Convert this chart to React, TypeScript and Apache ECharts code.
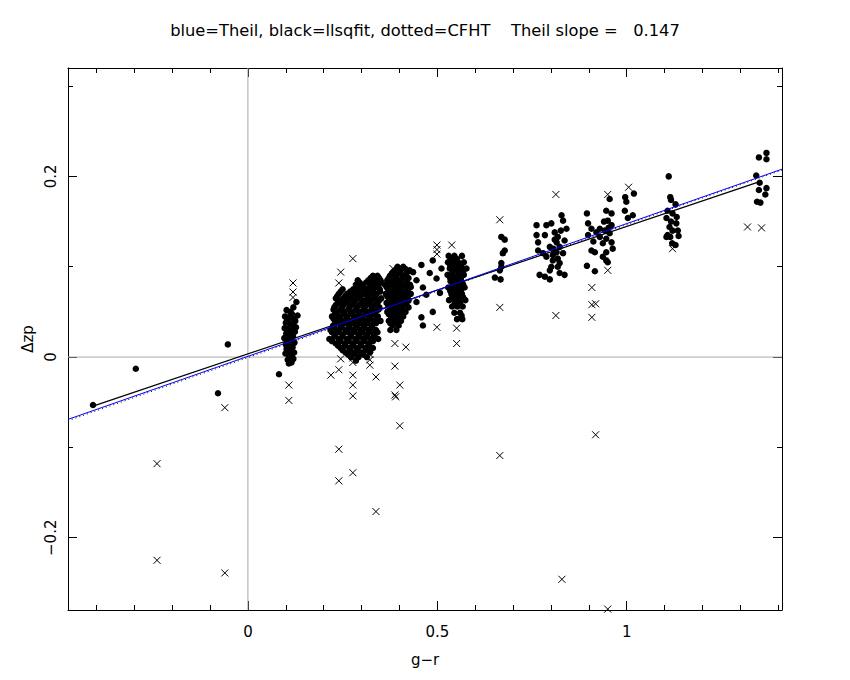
import React, { useEffect, useRef } from "react";
import * as echarts from "echarts";

// Axis ranges and ticks
const X_RANGE = [-0.475, 1.41];
const Y_RANGE = [-0.28, 0.32];
const xMajorTicks = [0, 0.5, 1];
const xMinorTicks = [-0.4, -0.3, -0.2, -0.1, 0, 0.1, 0.2, 0.3, 0.4, 0.5, 0.6, 0.7, 0.8, 0.9, 1, 1.1, 1.2, 1.3, 1.4];
const yMajorTicks = [-0.2, 0, 0.2];
const yMinorTicks = [-0.2, -0.1, 0, 0.1, 0.2, 0.3];

const TITLE = "blue=Theil, black=llsqfit, dotted=CFHT    Theil slope =   0.147";
const X_NAME = "g\u2212r";
const Y_NAME = "\u0394zp";

// Fit lines (end points)
const theilLine = [[-0.475, -0.069], [1.41, 0.208]];
const cfhtLine = [[-0.475, -0.0705], [1.41, 0.207]];
const llsqLine = [[-0.407, -0.054], [1.357, 0.195]];

// Filled points
const isolatedDots = [[-0.409, -0.053], [-0.296, -0.013], [-0.079, -0.040], [-0.053, 0.014], [0.082, -0.019]];

const clusterA = [
  [0.128, 0.061], [0.120, 0.055], [0.102, 0.052], [0.112, 0.050], [0.131, 0.046], [0.098, 0.045], [0.108, 0.044],
  [0.118, 0.043], [0.125, 0.040], [0.100, 0.038], [0.111, 0.037], [0.120, 0.035], [0.097, 0.032], [0.106, 0.031],
  [0.115, 0.030], [0.124, 0.028], [0.101, 0.026], [0.110, 0.024], [0.119, 0.023], [0.096, 0.021], [0.105, 0.019],
  [0.114, 0.018], [0.123, 0.016], [0.100, 0.014], [0.109, 0.012], [0.118, 0.011], [0.104, 0.008], [0.113, 0.006],
  [0.122, 0.005], [0.099, 0.004], [0.108, 0.002], [0.117, 0.000], [0.105, -0.003], [0.113, -0.005], [0.120, -0.002],
  [0.110, 0.028], [0.103, 0.041], [0.116, 0.048], [0.127, 0.033], [0.102, 0.009], [0.115, -0.006], [0.108, -0.007],
];

const clusterB = [
  [0.330, 0.090], [0.342, 0.090],
  [0.290, 0.085], [0.318, 0.085], [0.336, 0.085], [0.350, 0.085],
  [0.285, 0.080], [0.300, 0.080], [0.325, 0.080], [0.345, 0.080],
  [0.250, 0.075], [0.278, 0.075], [0.296, 0.075], [0.312, 0.075], [0.330, 0.075], [0.348, 0.075],
  [0.240, 0.070], [0.262, 0.070], [0.283, 0.070], [0.305, 0.070], [0.322, 0.070], [0.340, 0.070],
  [0.232, 0.065], [0.252, 0.065], [0.270, 0.065], [0.290, 0.065], [0.315, 0.065], [0.333, 0.065], [0.352, 0.065],
  [0.238, 0.060], [0.258, 0.060], [0.278, 0.060], [0.300, 0.060], [0.320, 0.060], [0.342, 0.060],
  [0.228, 0.055], [0.248, 0.055], [0.268, 0.055], [0.287, 0.055], [0.308, 0.055], [0.328, 0.055], [0.347, 0.055],
  [0.235, 0.050], [0.255, 0.050], [0.275, 0.050], [0.295, 0.050], [0.316, 0.050], [0.336, 0.050],
  [0.222, 0.045], [0.243, 0.045], [0.262, 0.045], [0.283, 0.045], [0.303, 0.045], [0.323, 0.045], [0.343, 0.045],
  [0.230, 0.040], [0.250, 0.040], [0.270, 0.040], [0.290, 0.040], [0.311, 0.040], [0.331, 0.040], [0.350, 0.040],
  [0.225, 0.035], [0.245, 0.035], [0.266, 0.035], [0.285, 0.035], [0.305, 0.035], [0.326, 0.035],
  [0.218, 0.030], [0.238, 0.030], [0.258, 0.030], [0.278, 0.030], [0.298, 0.030], [0.318, 0.030], [0.338, 0.030],
  [0.230, 0.025], [0.250, 0.025], [0.272, 0.025], [0.292, 0.025], [0.312, 0.025], [0.332, 0.025],
  [0.215, 0.020], [0.240, 0.020], [0.262, 0.020], [0.284, 0.020], [0.305, 0.020], [0.325, 0.020], [0.344, 0.020],
  [0.232, 0.015], [0.255, 0.015], [0.276, 0.015], [0.298, 0.015], [0.318, 0.015],
  [0.245, 0.010], [0.268, 0.010], [0.288, 0.010], [0.310, 0.010], [0.330, 0.010],
  [0.258, 0.005], [0.280, 0.005], [0.300, 0.005], [0.322, 0.005],
  [0.272, 0.000], [0.292, 0.000], [0.314, 0.000], [0.285, -0.004],
];

const clusterBInner = [
  [0.324, 0.0875], [0.346, 0.0875],
  [0.295, 0.0825], [0.312, 0.0825], [0.332, 0.0825], [0.352, 0.0825],
  [0.290, 0.0775], [0.305, 0.0775], [0.322, 0.0775], [0.340, 0.0775],
  [0.245, 0.0725], [0.270, 0.0725], [0.290, 0.0725], [0.314, 0.0725], [0.331, 0.0725], [0.349, 0.0725],
  [0.236, 0.0675], [0.257, 0.0675], [0.276, 0.0675], [0.296, 0.0675], [0.318, 0.0675], [0.336, 0.0675],
  [0.243, 0.0625], [0.262, 0.0625], [0.283, 0.0625], [0.305, 0.0625], [0.326, 0.0625], [0.346, 0.0625],
  [0.232, 0.0575], [0.252, 0.0575], [0.272, 0.0575], [0.293, 0.0575], [0.313, 0.0575], [0.336, 0.0575],
  [0.226, 0.0525], [0.244, 0.0525], [0.265, 0.0525], [0.285, 0.0525], [0.305, 0.0525], [0.326, 0.0525], [0.344, 0.0525],
  [0.230, 0.0475], [0.252, 0.0475], [0.272, 0.0475], [0.292, 0.0475], [0.312, 0.0475], [0.332, 0.0475],
  [0.226, 0.0425], [0.240, 0.0425], [0.260, 0.0425], [0.280, 0.0425], [0.300, 0.0425], [0.320, 0.0425], [0.340, 0.0425],
  [0.235, 0.0375], [0.255, 0.0375], [0.276, 0.0375], [0.296, 0.0375], [0.316, 0.0375], [0.338, 0.0375],
  [0.228, 0.0325], [0.248, 0.0325], [0.268, 0.0325], [0.288, 0.0325], [0.308, 0.0325], [0.328, 0.0325],
  [0.222, 0.0275], [0.240, 0.0275], [0.262, 0.0275], [0.282, 0.0275], [0.302, 0.0275], [0.322, 0.0275], [0.342, 0.0275],
  [0.228, 0.0225], [0.250, 0.0225], [0.272, 0.0225], [0.295, 0.0225], [0.315, 0.0225], [0.335, 0.0225],
  [0.222, 0.0175], [0.244, 0.0175], [0.266, 0.0175], [0.287, 0.0175], [0.308, 0.0175], [0.330, 0.0175],
  [0.238, 0.0125], [0.257, 0.0125], [0.278, 0.0125], [0.298, 0.0125], [0.320, 0.0125],
  [0.250, 0.0075], [0.270, 0.0075], [0.290, 0.0075], [0.312, 0.0075],
  [0.265, 0.0025], [0.285, 0.0025], [0.305, 0.0025],
];

const clusterC = [
  [0.395, 0.100], [0.410, 0.100],
  [0.385, 0.095], [0.402, 0.095], [0.425, 0.095],
  [0.375, 0.090], [0.392, 0.090], [0.410, 0.090],
  [0.368, 0.085], [0.384, 0.085], [0.400, 0.085], [0.418, 0.085],
  [0.362, 0.080], [0.378, 0.080], [0.394, 0.080], [0.410, 0.080], [0.428, 0.080],
  [0.370, 0.075], [0.386, 0.075], [0.402, 0.075], [0.420, 0.075],
  [0.364, 0.070], [0.380, 0.070], [0.396, 0.070], [0.412, 0.070], [0.430, 0.070],
  [0.372, 0.065], [0.388, 0.065], [0.404, 0.065], [0.422, 0.065],
  [0.366, 0.060], [0.382, 0.060], [0.398, 0.060], [0.414, 0.060],
  [0.374, 0.055], [0.390, 0.055], [0.406, 0.055], [0.424, 0.055],
  [0.368, 0.050], [0.384, 0.050], [0.400, 0.050], [0.416, 0.050],
  [0.378, 0.045], [0.394, 0.045], [0.410, 0.045],
  [0.372, 0.040], [0.388, 0.040], [0.404, 0.040],
  [0.382, 0.035], [0.398, 0.035], [0.376, 0.030], [0.392, 0.030],
  [0.458, 0.102], [0.488, 0.107], [0.511, 0.098], [0.480, 0.093], [0.498, 0.087], [0.507, 0.071],
  [0.488, 0.050], [0.458, 0.044], [0.462, 0.035], [0.445, 0.061], [0.462, 0.077], [0.445, 0.085],
  [0.471, 0.069], [0.436, 0.094], [0.427, 0.096],
];

const clusterCInner = [
  [0.392, 0.0975], [0.416, 0.0975],
  [0.380, 0.0925], [0.398, 0.0925], [0.418, 0.0925],
  [0.372, 0.0875], [0.390, 0.0875], [0.408, 0.0875], [0.424, 0.0875],
  [0.370, 0.0825], [0.386, 0.0825], [0.402, 0.0825], [0.420, 0.0825],
  [0.366, 0.0775], [0.382, 0.0775], [0.398, 0.0775], [0.414, 0.0775], [0.430, 0.0775],
  [0.372, 0.0725], [0.388, 0.0725], [0.404, 0.0725], [0.422, 0.0725],
  [0.368, 0.0675], [0.384, 0.0675], [0.400, 0.0675], [0.416, 0.0675],
  [0.374, 0.0625], [0.390, 0.0625], [0.406, 0.0625], [0.424, 0.0625],
  [0.370, 0.0575], [0.386, 0.0575], [0.402, 0.0575], [0.418, 0.0575],
  [0.376, 0.0525], [0.392, 0.0525], [0.408, 0.0525],
  [0.372, 0.0475], [0.388, 0.0475], [0.404, 0.0475],
  [0.380, 0.0425], [0.396, 0.0425], [0.376, 0.0375], [0.392, 0.0375],
];

const clusterD = [
  [0.530, 0.112], [0.545, 0.112], [0.565, 0.112],
  [0.528, 0.105], [0.540, 0.105], [0.555, 0.105], [0.570, 0.105],
  [0.533, 0.098], [0.548, 0.098], [0.562, 0.098], [0.577, 0.098],
  [0.527, 0.091], [0.541, 0.091], [0.556, 0.091], [0.570, 0.091],
  [0.535, 0.084], [0.549, 0.084], [0.563, 0.084],
  [0.529, 0.077], [0.543, 0.077], [0.557, 0.077], [0.572, 0.077],
  [0.537, 0.070], [0.551, 0.070], [0.565, 0.070],
  [0.531, 0.063], [0.545, 0.063], [0.559, 0.063], [0.574, 0.063],
  [0.539, 0.056], [0.553, 0.056], [0.567, 0.056],
  [0.545, 0.049], [0.560, 0.049], [0.552, 0.042], [0.566, 0.042], [0.564, 0.046],
];

const clusterDInner = [
  [0.536, 0.1085], [0.552, 0.1085],
  [0.534, 0.1015], [0.548, 0.1015], [0.563, 0.1015],
  [0.540, 0.0945], [0.555, 0.0945], [0.568, 0.0945],
  [0.534, 0.0875], [0.548, 0.0875], [0.562, 0.0875],
  [0.541, 0.0805], [0.556, 0.0805], [0.568, 0.0805],
  [0.534, 0.0735], [0.548, 0.0735], [0.562, 0.0735],
  [0.540, 0.0665], [0.555, 0.0665], [0.568, 0.0665],
  [0.546, 0.0595], [0.560, 0.0595],
];

const clusterE = [
  [0.669, 0.133], [0.678, 0.130], [0.678, 0.118], [0.673, 0.115], [0.669, 0.104],
  [0.669, 0.100], [0.652, 0.088], [0.667, 0.086], [0.665, 0.096],
];

const clusterF = [
  [0.762, 0.146], [0.788, 0.146], [0.801, 0.148], [0.828, 0.157], [0.832, 0.151], [0.841, 0.142],
  [0.762, 0.135], [0.766, 0.127], [0.784, 0.135], [0.810, 0.138], [0.818, 0.133], [0.766, 0.118],
  [0.779, 0.115], [0.797, 0.122], [0.823, 0.122], [0.815, 0.127], [0.836, 0.129], [0.788, 0.111],
  [0.805, 0.113], [0.818, 0.109], [0.801, 0.100], [0.797, 0.096], [0.818, 0.100], [0.823, 0.093],
  [0.836, 0.091], [0.770, 0.091], [0.784, 0.089], [0.797, 0.086], [0.823, 0.104], [0.832, 0.115],
  [0.815, 0.116], [0.805, 0.107], [0.810, 0.130], [0.826, 0.140], [0.806, 0.120],
];

const clusterG = [
  [0.895, 0.159], [0.898, 0.148], [0.907, 0.142], [0.920, 0.138], [0.898, 0.135], [0.907, 0.118],
  [0.916, 0.116], [0.946, 0.162], [0.960, 0.159], [0.950, 0.151], [0.960, 0.146], [0.942, 0.140],
  [0.955, 0.137], [0.946, 0.131], [0.960, 0.127], [0.937, 0.126], [0.946, 0.116], [0.963, 0.120],
  [0.937, 0.111], [0.950, 0.105], [0.946, 0.107], [0.895, 0.101], [0.916, 0.095], [0.929, 0.142],
  [0.929, 0.133], [0.955, 0.175], [0.952, 0.143], [0.940, 0.150], [0.912, 0.128],
];

const clusterH = [
  [0.996, 0.177], [0.999, 0.172], [0.995, 0.162], [1.003, 0.154], [1.016, 0.157], [1.019, 0.181],
];

const clusterI = [
  [1.111, 0.200], [1.115, 0.177], [1.117, 0.174], [1.129, 0.169], [1.108, 0.162], [1.121, 0.159],
  [1.132, 0.155], [1.105, 0.154], [1.117, 0.150], [1.131, 0.148], [1.113, 0.144], [1.121, 0.140],
  [1.135, 0.140], [1.108, 0.135], [1.137, 0.134], [1.105, 0.133], [1.120, 0.126], [1.129, 0.124],
  [1.115, 0.133],
];

const clusterJ = [
  [1.349, 0.221], [1.369, 0.226], [1.369, 0.219], [1.342, 0.201], [1.351, 0.193], [1.349, 0.185],
  [1.369, 0.187], [1.366, 0.180], [1.344, 0.172], [1.353, 0.171],
];

// Rejected points (crosses)
const crosses = [
  [-0.240, -0.118], [-0.240, -0.225], [-0.061, -0.056], [-0.061, -0.239],
  [0.108, -0.031], [0.108, -0.048],
  [0.119, 0.082], [0.119, 0.072], [0.119, 0.066],
  [0.277, 0.109], [0.245, 0.094], [0.240, 0.082],
  [0.245, -0.002], [0.240, -0.014], [0.219, -0.020],
  [0.277, 0.004], [0.277, -0.001], [0.277, -0.006], [0.277, -0.020], [0.277, -0.031], [0.277, -0.043],
  [0.322, 0.009], [0.322, 0.003], [0.322, -0.003], [0.322, -0.009],
  [0.338, -0.022],
  [0.388, 0.015], [0.417, 0.011], [0.388, -0.010], [0.401, -0.031], [0.388, -0.042], [0.390, -0.044], [0.401, -0.076],
  [0.383, 0.098],
  [0.499, 0.124], [0.499, 0.119], [0.499, 0.114], [0.538, 0.124],
  [0.499, 0.033], [0.551, 0.032], [0.551, 0.015],
  [0.665, 0.152], [0.665, 0.055],
  [0.813, 0.180], [0.813, 0.046],
  [0.908, 0.077], [0.908, 0.058], [0.918, 0.059], [0.908, 0.044],
  [0.950, 0.096], [0.950, 0.180], [1.005, 0.188], [1.121, 0.120],
  [1.319, 0.144], [1.356, 0.143],
  [0.240, -0.102], [0.240, -0.137], [0.277, -0.128], [0.338, -0.171],
  [0.665, -0.109], [0.918, -0.086], [0.829, -0.246], [0.950, -0.279],
];

const FONT = "DejaVu Sans";
const BLACK = "#000000";
const GRAY = "#a8a8a8";

const fmt = (v: number) => (v < 0 ? "\u2212" + String(-v) : String(v));

function makeXAxis(position: string, ticks: number[], len: number, withLine: boolean, withLabel: boolean) {
  return {
    type: "value",
    min: X_RANGE[0],
    max: X_RANGE[1],
    position,
    axisLine: { show: withLine, onZero: false, lineStyle: { color: BLACK, width: 1 } },
    axisTick: { show: true, inside: true, length: len, customValues: ticks, lineStyle: { color: BLACK, width: 1 } },
    axisLabel: withLabel
      ? { show: true, customValues: xMajorTicks, formatter: fmt, margin: 14, color: BLACK, fontFamily: FONT, fontSize: 15 }
      : { show: false },
    splitLine: { show: false },
    ...(withLabel
      ? {
          name: X_NAME,
          nameLocation: "middle",
          nameGap: 42,
          nameTextStyle: { color: BLACK, fontFamily: FONT, fontSize: 15 },
        }
      : {}),
  };
}

function makeYAxis(position: string, ticks: number[], len: number, withLine: boolean, withLabel: boolean) {
  return {
    type: "value",
    min: Y_RANGE[0],
    max: Y_RANGE[1],
    position,
    axisLine: { show: withLine, onZero: false, lineStyle: { color: BLACK, width: 1 } },
    axisTick: { show: true, inside: true, length: len, customValues: ticks, lineStyle: { color: BLACK, width: 1 } },
    axisLabel: withLabel
      ? { show: true, customValues: yMajorTicks, formatter: fmt, rotate: 90, margin: 10, color: BLACK, fontFamily: FONT, fontSize: 15 }
      : { show: false },
    splitLine: { show: false },
    ...(withLabel
      ? {
          name: Y_NAME,
          nameLocation: "middle",
          nameRotate: 90,
          nameGap: 10,
          nameTextStyle: { color: BLACK, fontFamily: FONT, fontSize: 15 },
        }
      : {}),
  };
}

export default function App() {
  const ref = useRef<HTMLDivElement>(null);

  useEffect(() => {
    if (!ref.current) return;
    const chart = echarts.init(ref.current, undefined, { renderer: "svg" });
    const dots = [
      ...isolatedDots,
      ...clusterA,
      ...clusterB,
      ...clusterBInner,
      ...clusterC,
      ...clusterCInner,
      ...clusterD,
      ...clusterDInner,
      ...clusterE,
      ...clusterF,
      ...clusterG,
      ...clusterH,
      ...clusterI,
      ...clusterJ,
    ];
    chart.setOption({
      animation: false,
      backgroundColor: "#ffffff",
      title: {
        text: TITLE,
        left: "center",
        top: 17,
        textStyle: { color: BLACK, fontFamily: FONT, fontSize: 16.3, fontWeight: "normal" },
      },
      grid: { left: 68, top: 68, width: 714, height: 542, containLabel: false, outerBoundsMode: "none" },
      xAxis: [
        makeXAxis("bottom", xMajorTicks, 9, true, true),
        makeXAxis("bottom", xMinorTicks, 5, false, false),
        makeXAxis("top", xMajorTicks, 9, true, false),
        makeXAxis("top", xMinorTicks, 5, false, false),
      ],
      yAxis: [
        makeYAxis("left", yMajorTicks, 9, true, true),
        makeYAxis("left", yMinorTicks, 5, false, false),
        makeYAxis("right", yMajorTicks, 9, true, false),
        makeYAxis("right", yMinorTicks, 5, false, false),
      ],
      series: [
        {
          type: "line",
          data: [[0, Y_RANGE[0]], [0, Y_RANGE[1]]],
          symbol: "none",
          silent: true,
          lineStyle: { color: GRAY, width: 1 },
          z: 1,
        },
        {
          type: "line",
          data: [[X_RANGE[0], 0], [X_RANGE[1], 0]],
          symbol: "none",
          silent: true,
          lineStyle: { color: GRAY, width: 1 },
          z: 1,
        },
        {
          type: "scatter",
          data: dots,
          symbol: "circle",
          symbolSize: 6.5,
          itemStyle: { color: BLACK, opacity: 1 },
          z: 3,
        },
        {
          type: "scatter",
          data: crosses,
          symbol: "path://M0 0L10 10M10 0L0 10",
          symbolSize: 7,
          itemStyle: { color: "rgba(0,0,0,0)", borderColor: BLACK, borderWidth: 1, opacity: 1 },
          z: 3,
        },
        {
          type: "line",
          data: cfhtLine,
          symbol: "none",
          lineStyle: { color: BLACK, width: 1, type: [1, 3] },
          z: 4,
        },
        {
          type: "line",
          data: llsqLine,
          symbol: "none",
          lineStyle: { color: BLACK, width: 1.2 },
          z: 5,
        },
        {
          type: "line",
          data: theilLine,
          symbol: "none",
          lineStyle: { color: "#0000ff", width: 1 },
          z: 6,
        },
      ],
    });
    return () => chart.dispose();
  }, []);

  return (
    <div
      ref={ref}
      style={{ position: "absolute", left: 0, top: 0, width: 850, height: 680, background: "#fff" }}
    />
  );
}
